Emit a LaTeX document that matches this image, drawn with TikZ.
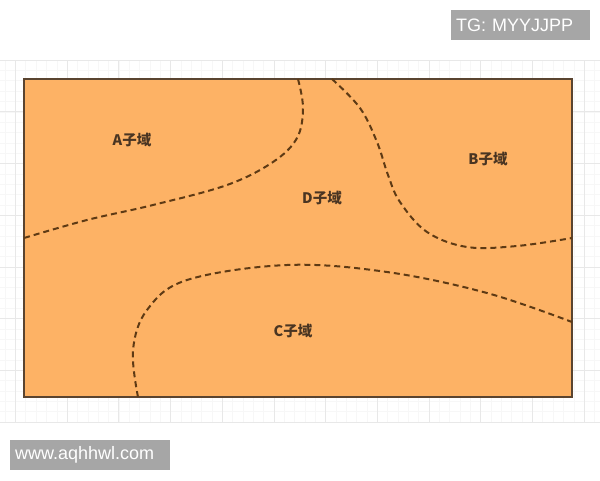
\documentclass[tikz,border=0pt]{standalone}
\usepackage{fontspec}
\setmainfont{Liberation Sans}
\newfontfamily\cjk{Noto Sans CJK SC}

\definecolor{fieldfill}{HTML}{FDB265}
\definecolor{fieldline}{HTML}{5A4430}
\definecolor{cutline}{HTML}{5E3A14}
\definecolor{labtext}{HTML}{4A3522}
\definecolor{wmgray}{HTML}{A6A6A6}

\tikzset{
  subdomain/.style={font=\cjk\bfseries\fontsize{14.5}{16}\selectfont, text=labtext, inner sep=1pt},
  cut/.style={draw=cutline, line width=2pt, dash pattern=on 6pt off 4pt},
  watermark/.style={fill=wmgray, text=white, font=\fontsize{18}{20}\selectfont,
    anchor=west, minimum height=30pt, inner xsep=5pt, align=left}
}

\begin{document}
\begin{tikzpicture}[x=1pt, y=-1pt]
  \useasboundingbox (0,0) rectangle (600,480);

  % background grid
  \foreach \k in {0,...,57}
    \draw[gray!6, line width=0.4pt] (5+\k*10.34,60) -- (5+\k*10.34,422);
  \foreach \k in {0,...,35}
    \draw[gray!6, line width=0.4pt] (0,60+\k*10.34) -- (600,60+\k*10.34);
  \foreach \k in {0,...,11}
    \draw[gray!18, line width=0.6pt] (15.3+\k*51.7,60) -- (15.3+\k*51.7,422);
  \foreach \k in {0,...,7}
    \draw[gray!18, line width=0.6pt] (0,60+\k*51.7) -- (600,60+\k*51.7);

  % the field
  \draw[fill=fieldfill, draw=fieldline, line width=1.8pt] (24,79) rectangle (572,397);

  % sub-domain boundaries
  \draw[cut] plot[smooth, tension=0.6] coordinates
    {(298,79) (303,108) (297,138) (273,162) (227,185) (153,205) (87,220) (24,238)};
  \draw[cut] plot[smooth, tension=0.6] coordinates
    {(332,79) (360,108) (377,142) (388,175) (400,202) (427,232) (467,247) (517,246) (572,238)};
  \draw[cut] plot[smooth, tension=0.6] coordinates
    {(138,397) (133,350) (147,310) (187,280) (287,265) (387,272) (487,293) (572,322)};

  \node[subdomain] (labA) at (132,140) {A子域};
  \node[subdomain] (labB) at (488,159) {B子域};
  \node[subdomain] (labD) at (322,198) {D子域};
  \node[subdomain] (labC) at (293,331) {C子域};

  \node[watermark, text width=129pt] (wmTG) at (451,25) {TG: MYYJJPP};
  \node[watermark, text width=150pt] (wmWeb) at (10,455) {www.aqhhwl.com};
\end{tikzpicture}
\end{document}
